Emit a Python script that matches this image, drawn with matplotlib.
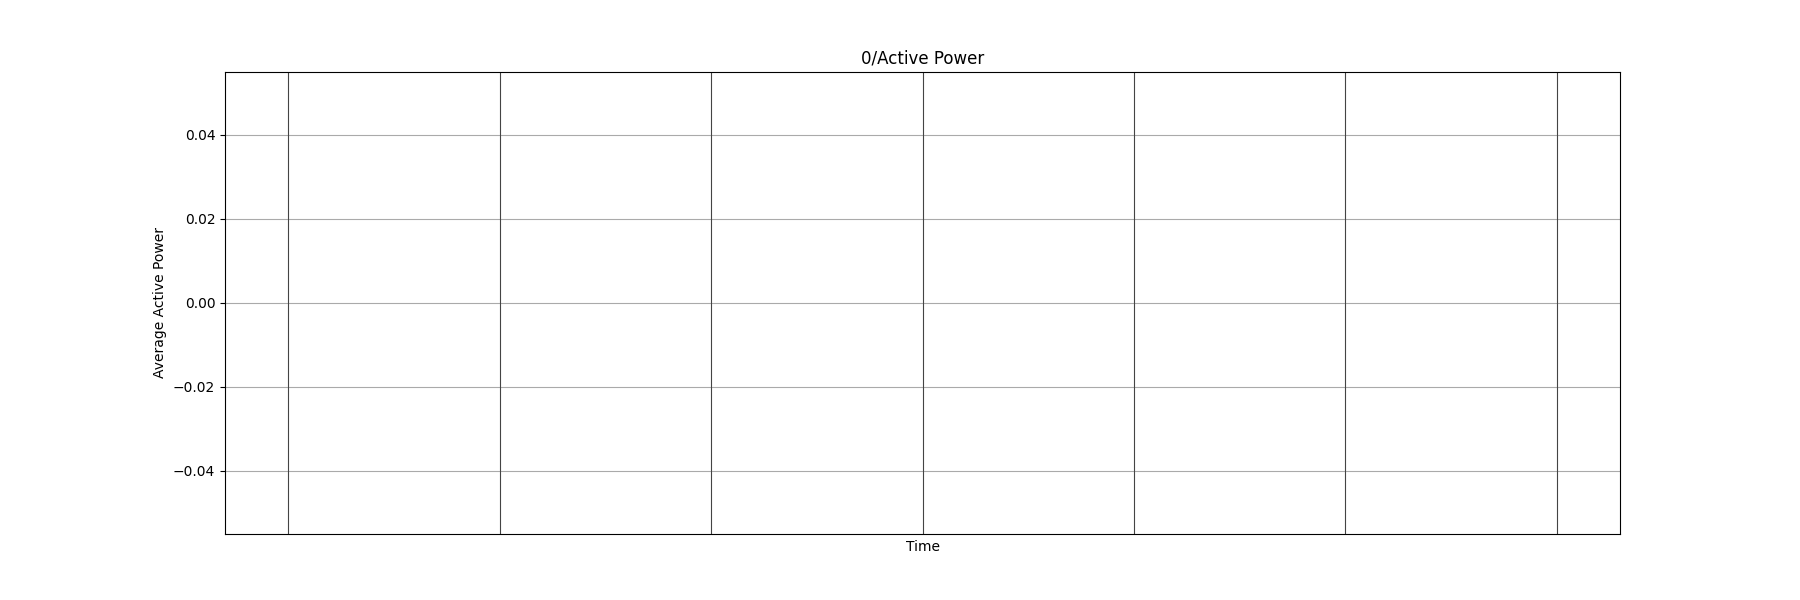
import numpy as np
import matplotlib.pyplot as plt

# time stamps (index positions) and average active power (no readings)
times = [0, 1, 2, 3, 4, 5, 6]
power = [np.nan] * 7

fig, ax = plt.subplots(figsize=(18, 6), dpi=100)
ax.plot(times, power)
for t in times:
    ax.axvline(t, color='#444444', linewidth=0.8)

ax.yaxis.grid(True, color='#aaaaaa', linewidth=0.8)
ax.set_xticks([])
ax.set_title('0/Active Power')
ax.set_xlabel('Time')
ax.set_ylabel('Average Active Power')
fig.savefig('out.png')
